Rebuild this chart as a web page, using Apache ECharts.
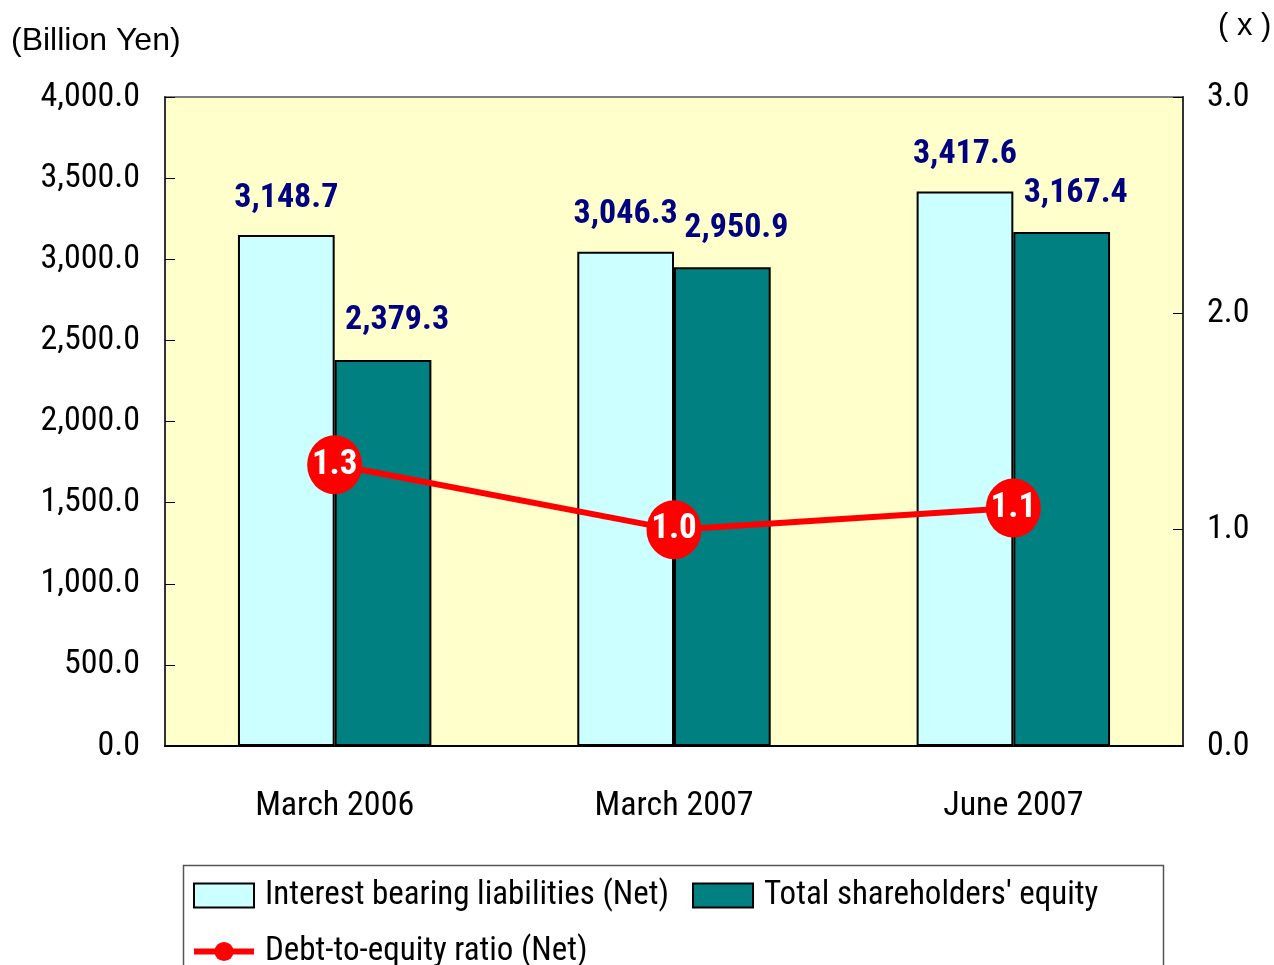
<!DOCTYPE html>
<html>
<head>
<meta charset="utf-8">
<script src="https://cdn.jsdelivr.net/npm/echarts@6/dist/echarts.min.js"></script>
<style>
  html, body { margin: 0; padding: 0; background: #fff; }
  #chart { width: 1274px; height: 965px; }
</style>
</head>
<body>
<div id="chart"></div>
<script>
const categories = ['March 2006', 'March 2007', 'June 2007'];
const liabilities = [3148.7, 3046.3, 3417.6];
const equity = [2379.3, 2950.9, 3167.4];
const deRatio = [1.3, 1.0, 1.1];
const seriesNames = ['Interest bearing liabilities (Net)', "Total shareholders' equity", 'Debt-to-equity ratio (Net)'];

const narrow = "'Roboto Condensed', 'Arial Narrow', sans-serif";
const fmtYen = v => v.toFixed(1).replace(/\B(?=(\d{3})+(?!\d))/g, ',');

const chart = echarts.init(document.getElementById('chart'), null, {renderer: 'canvas'});

const option = {
    backgroundColor: '#ffffff',
    animation: false,
    graphic: [
        {type: 'text', left: 11, top: 25, style: {text: '(Billion Yen)', font: "32px 'Liberation Sans', Arial, sans-serif", fill: '#000'}},
        {type: 'text', left: 1218, top: 11, style: {text: '( x )', font: "31px 'Liberation Sans', Arial, sans-serif", fill: '#000'}},
        // legend frame (wider than the legend content in the original)
        {type: 'rect', left: 181, top: 863, shape: {width: 980, height: 130},
         style: {fill: 'none', stroke: '#555', lineWidth: 1.5}, z: 0}
    ],
    grid: {
        left: 165, right: 91, top: 97, bottom: 219,
        show: true, backgroundColor: '#FFFFCC', borderColor: '#808080', borderWidth: 2
    },
    legend: {
        left: 181, top: 863, width: 970,
        padding: [16, 10, 10, 10],
        itemWidth: 60, itemHeight: 24, itemGap: 23,
        textStyle: {fontFamily: narrow, fontSize: 33, color: '#000', lineHeight: 24, padding: [0, 0, 0, 6]},
        data: [
            {name: seriesNames[0], icon: 'rect'},
            {name: seriesNames[1], icon: 'rect'},
            {name: seriesNames[2], lineStyle: {width: 6}}
        ]
    },
    xAxis: {
        type: 'category',
        data: categories,
        axisLine: {lineStyle: {color: '#000', width: 2}},
        axisTick: {inside: true, length: 13, lineStyle: {color: '#000', width: 1}},
        axisLabel: {fontFamily: narrow, fontSize: 34, color: '#000', margin: 43}
    },
    yAxis: [
        {
            type: 'value', min: 0, max: 4000, interval: 500,
            axisLine: {show: true, lineStyle: {color: '#333', width: 2}},
            axisTick: {show: true, inside: true, length: 10, lineStyle: {color: '#000'}},
            splitLine: {show: false},
            axisLabel: {fontFamily: narrow, fontSize: 34, color: '#000', margin: 25, padding: [6, 0, 0, 0], formatter: fmtYen}
        },
        {
            type: 'value', min: 0, max: 3, interval: 1,
            position: 'right',
            axisLine: {show: true, lineStyle: {color: '#333', width: 2}},
            axisTick: {show: true, inside: true, length: 10, lineStyle: {color: '#000'}},
            splitLine: {show: false},
            axisLabel: {fontFamily: narrow, fontSize: 34, color: '#000', margin: 24, padding: [6, 0, 0, 0], formatter: v => v.toFixed(1)}
        }
    ],
    series: [
        {
            name: seriesNames[0], type: 'bar', data: liabilities,
            barGap: '0%', barCategoryGap: '43%',
            itemStyle: {color: '#CCFFFF', borderColor: '#000', borderWidth: 2},
            label: {
                show: true, position: 'top', distance: 20,
                fontFamily: narrow, fontSize: 34, fontWeight: 'bold', color: '#000080',
                formatter: p => fmtYen(p.value)
            }
        },
        {
            name: seriesNames[1], type: 'bar', data: equity,
            itemStyle: {color: '#008080', borderColor: '#000', borderWidth: 2},
            label: {
                show: true, position: 'top', distance: 22, offset: [14, 0],
                fontFamily: narrow, fontSize: 34, fontWeight: 'bold', color: '#000080',
                formatter: p => fmtYen(p.value)
            }
        },
        {
            name: seriesNames[2], type: 'line', yAxisIndex: 1, data: deRatio,
            z: 10,
            symbol: 'circle', symbolSize: [55, 59],
            lineStyle: {color: '#FF0000', width: 6},
            itemStyle: {color: '#FF0000'},
            label: {
                show: true, position: 'inside',
                fontFamily: narrow, fontSize: 35, fontWeight: 'bold', color: '#fff',
                formatter: p => p.value.toFixed(1)
            }
        }
    ]
};

chart.setOption(option);
</script>
</body>
</html>
